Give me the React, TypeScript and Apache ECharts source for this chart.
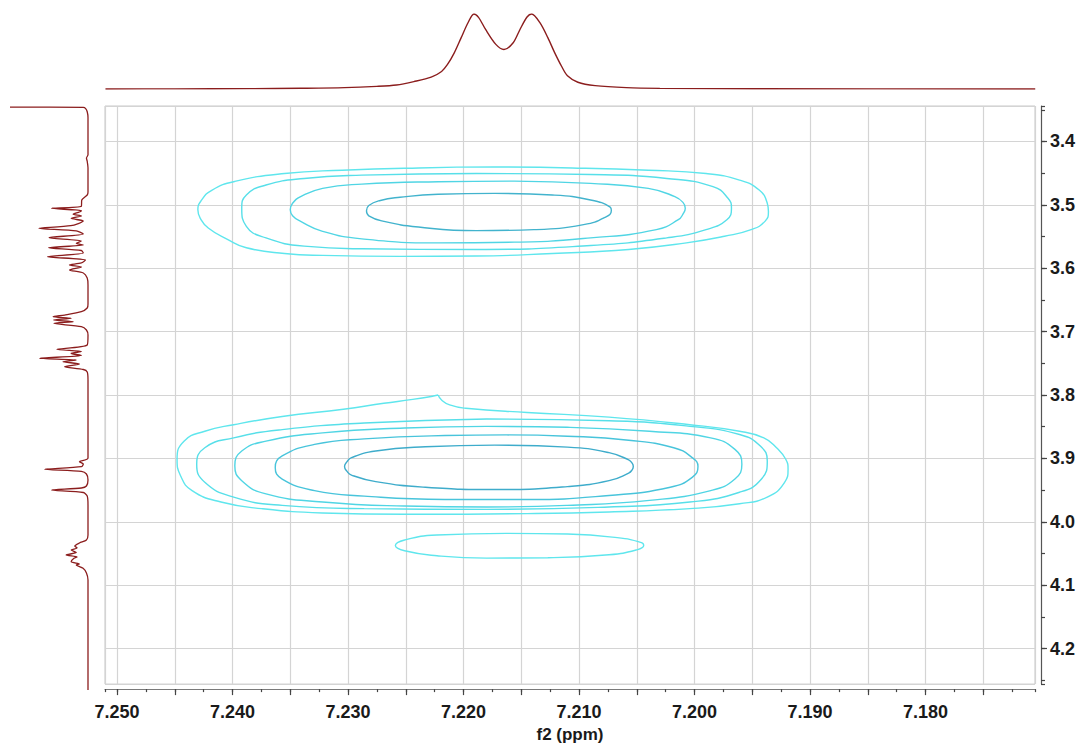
import React, { useEffect, useRef } from "react";
import * as echarts from "echarts";

// ---- axis ranges (ppm) ----
const X_MIN = 7.17052;
const X_MAX = 7.25104;
const Y_MIN = 3.344;
const Y_MAX = 4.256;

const X_TICK_LABELS = ["7.250", "7.240", "7.230", "7.220", "7.210", "7.200", "7.190", "7.180"];
const Y_TICK_LABELS = ["3.4", "3.5", "3.6", "3.7", "3.8", "3.9", "4.0", "4.1", "4.2"];
const X_AXIS_NAME = "f2 (ppm)";

// ---- contour lines [f2 ppm, f1 ppm] ----
const upperLevel1 = [[7.2173,3.4401],[7.2106,3.4417],[7.2040,3.4453],[7.1990,3.4505],[7.1961,3.4609],[7.1944,3.4766],[7.1937,3.4974],[7.1936,3.5104],[7.1939,3.5260],[7.1951,3.5391],[7.1974,3.5495],[7.2007,3.5599],[7.2057,3.5703],[7.2123,3.5766],[7.2189,3.5807],[7.2255,3.5812],[7.2322,3.5797],[7.2355,3.5766],[7.2388,3.5677],[7.2404,3.5547],[7.2421,3.5365],[7.2428,3.5208],[7.2430,3.5078],[7.2427,3.4930],[7.2418,3.4770],[7.2398,3.4630],[7.2355,3.4505],[7.2305,3.4453],[7.2239,3.4417],[7.2173,3.4401]];
const upperLevel2 = [[7.2189,3.4505],[7.2090,3.4521],[7.2024,3.4583],[7.1984,3.4713],[7.1971,3.4896],[7.1968,3.5052],[7.1972,3.5234],[7.1990,3.5391],[7.2024,3.5521],[7.2090,3.5641],[7.2189,3.5703],[7.2288,3.5693],[7.2338,3.5651],[7.2371,3.5521],[7.2388,3.5338],[7.2392,3.5052],[7.2388,3.4844],[7.2371,3.4687],[7.2338,3.4583],[7.2288,3.4531],[7.2189,3.4505]];
const upperLevel3 = [[7.2156,3.4625],[7.2090,3.4661],[7.2040,3.4740],[7.2017,3.4870],[7.2010,3.4960],[7.2008,3.5052],[7.2010,3.5145],[7.2014,3.5234],[7.2033,3.5391],[7.2090,3.5521],[7.2156,3.5588],[7.2222,3.5599],[7.2288,3.5536],[7.2322,3.5417],[7.2341,3.5260],[7.2348,3.5170],[7.2350,3.5078],[7.2348,3.4975],[7.2341,3.4870],[7.2322,3.4740],[7.2288,3.4672],[7.2222,3.4635],[7.2156,3.4625]];
const upperLevel4 = [[7.2173,3.4818],[7.2123,3.4844],[7.2090,3.4922],[7.2073,3.5036],[7.2072,3.5089],[7.2077,3.5193],[7.2096,3.5312],[7.2139,3.5391],[7.2189,3.5406],[7.2239,3.5349],[7.2269,3.5260],[7.2282,3.5172],[7.2284,3.5094],[7.2282,3.5010],[7.2272,3.4930],[7.2255,3.4880],[7.2222,3.4833],[7.2173,3.4818]];

const lowerLevel1 = [[7.2222,3.8000],[7.2219,3.8078],[7.2212,3.8156],[7.2198,3.8208],[7.2145,3.8275],[7.2074,3.8348],[7.2004,3.8468],[7.1961,3.8571],[7.1940,3.8675],[7.1929,3.8831],[7.1921,3.9013],[7.1919,3.9169],[7.1922,3.9377],[7.1937,3.9610],[7.1961,3.9714],[7.2004,3.9792],[7.2074,3.9844],[7.2145,3.9870],[7.2251,3.9881],[7.2322,3.9860],[7.2375,3.9792],[7.2410,3.9688],[7.2435,3.9507],[7.2445,3.9273],[7.2448,3.9013],[7.2442,3.8727],[7.2424,3.8571],[7.2399,3.8468],[7.2357,3.8338],[7.2304,3.8223],[7.2269,3.8130],[7.2244,3.8068],[7.2226,3.8016],[7.2222,3.8000]];
const lowerLevel2 = [[7.2180,3.8379],[7.2074,3.8405],[7.2004,3.8494],[7.1961,3.8623],[7.1943,3.8805],[7.1937,3.9039],[7.1942,3.9325],[7.1961,3.9533],[7.2004,3.9688],[7.2074,3.9766],[7.2180,3.9803],[7.2286,3.9792],[7.2357,3.9740],[7.2399,3.9610],[7.2424,3.9377],[7.2431,3.9091],[7.2424,3.8831],[7.2399,3.8675],[7.2357,3.8545],[7.2286,3.8442],[7.2180,3.8379]];
const lowerLevel3 = [[7.2180,3.8494],[7.2110,3.8509],[7.2039,3.8571],[7.1986,3.8675],[7.1965,3.8857],[7.1959,3.9091],[7.1965,3.9325],[7.1986,3.9507],[7.2039,3.9662],[7.2110,3.9740],[7.2180,3.9766],[7.2251,3.9751],[7.2322,3.9688],[7.2371,3.9559],[7.2392,3.9351],[7.2398,3.9117],[7.2392,3.8883],[7.2371,3.8727],[7.2322,3.8597],[7.2251,3.8520],[7.2180,3.8494]];
const lowerLevel4 = [[7.2163,3.8629],[7.2110,3.8649],[7.2057,3.8712],[7.2018,3.8831],[7.2002,3.8987],[7.1997,3.9127],[7.2002,3.9299],[7.2021,3.9455],[7.2074,3.9584],[7.2145,3.9647],[7.2216,3.9647],[7.2286,3.9595],[7.2329,3.9507],[7.2357,3.9325],[7.2363,3.9143],[7.2357,3.8961],[7.2329,3.8779],[7.2286,3.8691],[7.2216,3.8639],[7.2163,3.8629]];
const lowerLevel5 = [[7.2173,3.8790],[7.2110,3.8821],[7.2074,3.8909],[7.2057,3.9023],[7.2054,3.9075],[7.2053,3.9127],[7.2054,3.9180],[7.2057,3.9231],[7.2074,3.9351],[7.2110,3.9444],[7.2173,3.9491],[7.2233,3.9455],[7.2276,3.9366],[7.2297,3.9262],[7.2301,3.9200],[7.2303,3.9127],[7.2301,3.9055],[7.2297,3.8987],[7.2276,3.8883],[7.2233,3.8816],[7.2173,3.8790]];
const smallLevel1 = [[7.2163,4.0182],[7.2110,4.0193],[7.2067,4.0250],[7.2046,4.0328],[7.2044,4.0374],[7.2050,4.0442],[7.2074,4.0520],[7.2127,4.0566],[7.2180,4.0572],[7.2223,4.0535],[7.2251,4.0457],[7.2259,4.0374],[7.2251,4.0286],[7.2223,4.0208],[7.2163,4.0182]];

// ---- 1D projections ----
// top: [f2 ppm, relative intensity]
const topSpectrum = [[7.2510,0],[7.2450,0.002],[7.2385,0.005],[7.2341,0.01],[7.2303,0.018],[7.2275,0.035],[7.2258,0.054],[7.2243,0.099],[7.2228,0.158],[7.2219,0.234],[7.2214,0.324],[7.2208,0.482],[7.2202,0.685],[7.2196,0.887],[7.2191,1.0],[7.2187,0.955],[7.2181,0.797],[7.2172,0.595],[7.2165,0.527],[7.2157,0.617],[7.2151,0.797],[7.2145,0.96],[7.2141,1.0],[7.2134,0.887],[7.2127,0.685],[7.2121,0.482],[7.2115,0.30],[7.2110,0.176],[7.2101,0.09],[7.2086,0.045],[7.2059,0.018],[7.2030,0.009],[7.1950,0.003],[7.1705,0]];
// left: [relative intensity, f1 ppm]
const leftSpectrum = [[1.0,3.3458],[0.06,3.3462],[0.03,3.3480],[0.01,3.3530],[0.0,3.3620],[0.0,3.4200],[0.02,3.4250],[0.01,3.4300],[0.0,3.4400],[0.0,3.4780],[0.01,3.4825],[0.08,3.4903],[0.085,3.5000],[0.468,3.5032],[0.085,3.5069],[0.11,3.5090],[0.19,3.5125],[0.085,3.5152],[0.216,3.5188],[0.06,3.5230],[0.22,3.5303],[0.63,3.5343],[0.15,3.5385],[0.06,3.5432],[0.50,3.5490],[0.085,3.5541],[0.15,3.5577],[0.06,3.5603],[0.503,3.5645],[0.085,3.5689],[0.06,3.5728],[0.52,3.5785],[0.033,3.5837],[0.085,3.5883],[0.238,3.5914],[0.085,3.5946],[0.238,3.5992],[0.06,3.6039],[0.01,3.6117],[0.0,3.6226],[0.0,3.6520],[0.01,3.6584],[0.085,3.6641],[0.30,3.6693],[0.447,3.6719],[0.216,3.6744],[0.44,3.6770],[0.19,3.6796],[0.438,3.6822],[0.085,3.6875],[0.02,3.6926],[0.0,3.7004],[0.01,3.7160],[0.40,3.7227],[0.085,3.7261],[0.216,3.7290],[0.085,3.7323],[0.62,3.7367],[0.15,3.7393],[0.32,3.7420],[0.11,3.7455],[0.30,3.7497],[0.06,3.7541],[0.01,3.7580],[0.0,3.7704],[0.0,3.8918],[0.11,3.8976],[0.06,3.9012],[0.085,3.9054],[0.556,3.9094],[0.085,3.9128],[0.02,3.9167],[0.0,3.9260],[0.02,3.9354],[0.085,3.9385],[0.468,3.9416],[0.06,3.9455],[0.01,3.9510],[0.0,3.9650],[0.0,4.0117],[0.02,4.0195],[0.11,4.0241],[0.17,4.0288],[0.14,4.0319],[0.216,4.0350],[0.15,4.0389],[0.28,4.0428],[0.14,4.0459],[0.18,4.0480],[0.216,4.0532],[0.11,4.0568],[0.15,4.0584],[0.063,4.0635],[0.02,4.0708],[0.0,4.0817],[0.0,4.2530]];

const CONTOURS = [
  { name: "upper-1", data: upperLevel1, color: "#5fe6ed" },
  { name: "upper-2", data: upperLevel2, color: "#57dfe9" },
  { name: "upper-3", data: upperLevel3, color: "#50d5e4" },
  { name: "upper-4", data: upperLevel4, color: "#42b3cd" },
  { name: "lower-1", data: lowerLevel1, color: "#5fe6ed" },
  { name: "lower-2", data: lowerLevel2, color: "#57dfe9" },
  { name: "lower-3", data: lowerLevel3, color: "#50d5e4" },
  { name: "lower-4", data: lowerLevel4, color: "#48c4db" },
  { name: "lower-5", data: lowerLevel5, color: "#3eaccb" },
  { name: "small-1", data: smallLevel1, color: "#5fe6ed" },
];

const SPEC_COLOR = "#8b1d1d";
const LABEL_FONT = {
  fontFamily: "Liberation Sans, Arial, sans-serif",
  fontWeight: "bold" as const,
  fontSize: 18,
  color: "#1a1a1a",
};

export default function App() {
  const ref = useRef<HTMLDivElement>(null);

  useEffect(() => {
    const chart = echarts.init(ref.current as HTMLDivElement, null, { renderer: "svg" });

    const contourSeries = CONTOURS.map((c) => ({
      name: c.name,
      type: "line",
      xAxisIndex: 0,
      yAxisIndex: 0,
      data: c.data,
      showSymbol: false,
      symbol: "none",
      smooth: 0.5,
      silent: true,
      z: 3,
      lineStyle: { color: c.color, width: 1.4 },
    }));

    const option: any = {
      animation: false,
      backgroundColor: "#ffffff",
      grid: [
        { left: 105, top: 106, width: 930, height: 586, show: true, borderColor: "#c8c8c8", borderWidth: 1, containLabel: false },
        { left: 105, top: 14, width: 930, height: 75, containLabel: false },
        { left: 10, top: 106, width: 78, height: 586, containLabel: false },
      ],
      xAxis: [
        {
          type: "value",
          gridIndex: 0,
          min: X_MIN,
          max: X_MAX,
          inverse: true,
          position: "bottom",
          offset: 5,
          splitNumber: 16,
          minInterval: 0.005,
          maxInterval: 0.005,
          name: X_AXIS_NAME,
          nameLocation: "middle",
          nameGap: 33,
          nameTextStyle: { ...LABEL_FONT, fontSize: 17 },
          axisLine: { show: true, lineStyle: { color: "#7a7a7a", width: 1.2 } },
          axisTick: { show: true, length: 6, lineStyle: { color: "#444", width: 1.2 } },
          axisLabel: {
            ...LABEL_FONT,
            margin: 14,
            showMinLabel: false,
            showMaxLabel: false,
            formatter: (v: number) => {
              const s = v.toFixed(3);
              return X_TICK_LABELS.includes(s) ? s : "";
            },
          },
          splitLine: { show: true, lineStyle: { color: "#d4d4d4", width: 1.2 } },
        },
        {
          type: "value",
          gridIndex: 0,
          min: X_MIN,
          max: X_MAX,
          inverse: true,
          position: "bottom",
          offset: 5,
          splitNumber: 32,
          minInterval: 0.0025,
          maxInterval: 0.0025,
          axisLine: { show: false },
          axisTick: { show: true, length: 3, lineStyle: { color: "#444", width: 1.2 } },
          axisLabel: { show: false },
          splitLine: { show: false },
        },
        { type: "value", gridIndex: 1, min: X_MIN, max: X_MAX, inverse: true, show: false },
        { type: "value", gridIndex: 2, min: 0, max: 1, inverse: true, show: false },
      ],
      yAxis: [
        {
          type: "value",
          gridIndex: 0,
          min: Y_MIN,
          max: Y_MAX,
          inverse: true,
          position: "right",
          offset: 6,
          splitNumber: 9,
          minInterval: 0.1,
          maxInterval: 0.1,
          axisLine: { show: true, lineStyle: { color: "#555", width: 1.2 } },
          axisTick: { show: true, length: 6, lineStyle: { color: "#444", width: 1.2 } },
          axisLabel: {
            ...LABEL_FONT,
            margin: 9,
            showMinLabel: false,
            showMaxLabel: false,
            formatter: (v: number) => {
              const s = v.toFixed(1);
              return Math.abs(v - parseFloat(s)) < 1e-6 && Y_TICK_LABELS.includes(s) ? s : "";
            },
          },
          splitLine: { show: true, lineStyle: { color: "#d4d4d4", width: 1.2 } },
        },
        {
          type: "value",
          gridIndex: 0,
          min: Y_MIN,
          max: Y_MAX,
          inverse: true,
          position: "right",
          offset: 6,
          splitNumber: 18,
          minInterval: 0.05,
          maxInterval: 0.05,
          axisLine: { show: false },
          axisTick: { show: true, length: 4, lineStyle: { color: "#444", width: 1.2 } },
          axisLabel: { show: false },
          splitLine: { show: false },
        },
        { type: "value", gridIndex: 1, min: 0, max: 1, show: false },
        { type: "value", gridIndex: 2, min: Y_MIN, max: Y_MAX, inverse: true, show: false },
      ],
      series: [
        ...contourSeries,
        {
          name: "f2 projection",
          type: "line",
          xAxisIndex: 2,
          yAxisIndex: 2,
          data: topSpectrum,
          showSymbol: false,
          symbol: "none",
          smooth: 0.3,
          silent: true,
          lineStyle: { color: SPEC_COLOR, width: 1.4 },
        },
        {
          name: "f1 projection",
          type: "line",
          xAxisIndex: 3,
          yAxisIndex: 3,
          data: leftSpectrum,
          showSymbol: false,
          symbol: "none",
          smooth: 0.25,
          silent: true,
          lineStyle: { color: SPEC_COLOR, width: 1.3 },
        },
      ],
    };

    chart.setOption(option);
    return () => chart.dispose();
  }, []);

  return (
    <div
      ref={ref}
      style={{ position: "fixed", left: 0, top: 0, width: 1080, height: 748, background: "#ffffff" }}
    />
  );
}
